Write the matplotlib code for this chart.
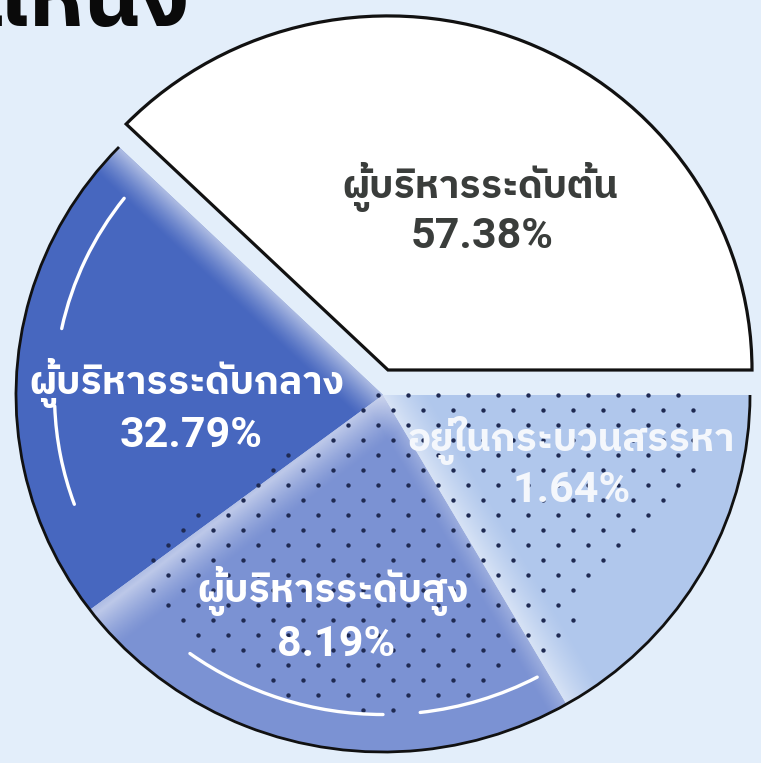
import numpy as np
import matplotlib
matplotlib.use("Agg")
import matplotlib.pyplot as plt
from matplotlib.patches import Arc
from matplotlib.path import Path

# ---------------- data ----------------
categories = ['ผู้บริหารระดับต้น', 'ผู้บริหารระดับกลาง', 'ผู้บริหารระดับสูง', 'อยู่ในกระบวนสรรหา']
percent_labels = [57.38, 32.79, 8.19, 1.64]
# slice angles (degrees) as drawn in the reference picture (stylised, not proportional)
drawn_span_deg = [136, 81, 83, 60]
slice_colors = ['#ffffff', '#4767bf', '#7b92d3', '#b0c7ec']
label_colors = ['#3a3d3b', '#ffffff', '#ffffff', '#f4f7fc']
title_text = 'ตำแหน่ง'

# ---------------- layout helpers ----------------
W, H = 761, 763
K = 367 / 357.0            # slight vertical squash of the original picture


def P(px, py):
    return (px, (H - py) * K)


BG = '#e3eefa'
THAI = ['IBM Plex Sans Thai', 'DejaVu Sans']
NUM = ['Roboto', 'DejaVu Sans']

fig = plt.figure(figsize=(W / 100, H / 100), dpi=100, facecolor=BG)
ax = fig.add_axes([0, 0, 1, 1])
ax.set_facecolor(BG)

center = P(383, 395)
R = 367

wedges, _ = ax.pie(drawn_span_deg, colors=slice_colors, startangle=0,
                   counterclock=True, center=center, radius=R,
                   wedgeprops=dict(linewidth=0), frame=True)
ax.set_aspect('auto')
ax.set_xlim(0, W)
ax.set_ylim(0, H * K)
ax.axis('off')

# white (exploded) slice
w0 = wedges[0]
w0.set_center(P(388, 370))
w0.set_radius(364)
w0.set_edgecolor('#111111')
w0.set_linewidth(2.3)
w0.set_joinstyle('miter')
w0.set_zorder(3)

# ---------------- soft light bands along slice edges ----------------
gy, gx = np.mgrid[0:H, 0:W] + 0.5


def seg_dist(p0, p1):
    x0, y0 = p0
    x1, y1 = p1
    vx, vy = x1 - x0, (y1 - y0) * K
    wx, wy = gx - x0, (gy - y0) * K
    t = np.clip((wx * vx + wy * vy) / (vx * vx + vy * vy), 0, 1)
    dx, dy = wx - t * vx, wy - t * vy
    return np.sqrt(dx * dx + dy * dy)


def band(wedge, p0, p1, width, amax, color=(1, 1, 1)):
    d = seg_dist(p0, p1)
    a = amax * np.clip(1 - d / width, 0, 1) ** 1.3
    img = np.zeros((H, W, 4))
    img[..., 0], img[..., 1], img[..., 2] = color
    img[..., 3] = a
    im = ax.imshow(img, extent=(0, W, 0, H * K), origin='upper',
                   interpolation='bilinear', zorder=1.5, aspect='auto')
    im.set_clip_path(wedge)


band(wedges[1], (383, 395), (110, 140), 34, 0.55)
band(wedges[2], (383, 395), (95, 615), 40, 0.5)
band(wedges[3], (383, 395), (575, 720), 40, 0.5)
band(wedges[2], (383, 395), (575, 720), 20, 0.25)

# ---------------- outer outline of the coloured part ----------------
ax.add_patch(Arc(center, 2 * R, 2 * R, theta1=wedges[1].theta1,
                 theta2=wedges[3].theta2, color='#111111', lw=2.0, zorder=2.5))

# white decorative arcs
for t1, t2 in [(142, 168), (182, 200), (234, 270), (276.5, 298)]:
    ax.add_patch(Arc(center, 2 * 0.895 * R, 2 * 0.895 * R, theta1=t1, theta2=t2,
                     color='white', lw=2.4, zorder=2.6, capstyle='round'))

# ---------------- dot texture ----------------
poly = Path([(372, 388), (700, 388), (700, 470), (548, 652), (470, 700), (380, 714),
             (285, 702), (140, 600), (140, 552), (372, 398), (372, 388)])
pts = []
for i, py in enumerate(np.arange(395, 716, 15)):
    off = 18 + (15 if i % 2 else 0)
    for px in np.arange(off, W, 30):
        pts.append((px, py))
pts = np.array(pts, dtype=float)
pts = pts[poly.contains_points(pts)]
ax.scatter(pts[:, 0], (H - pts[:, 1]) * K, s=10, color='#1f2a52', lw=0, zorder=2.4)

# ---------------- labels ----------------
label_pos = [((480, 187), (482, 237)),
             ((187, 383), (191, 436)),
             ((333, 591), (336, 645)),
             ((571, 441), (572, 491))]
for cat, pct, (tp, np_), col in zip(categories, percent_labels, label_pos, label_colors):
    ax.text(*P(*tp), cat, ha='center', va='center', fontsize=28, color=col,
            family=THAI, fontweight='bold', zorder=5)
    ax.text(*P(*np_), f'{pct:.2f}%', ha='center', va='center', fontsize=31,
            color=col, family=NUM, fontweight='bold', zorder=5)

# cut-off title at top (the reference picture is cropped through it)
ax.text(*P(190, 26), title_text, ha='right', va='baseline', fontsize=64,
        color='#0a0a0a', family=THAI, fontweight='bold', zorder=5)

fig.savefig('out.png', dpi=100, facecolor=BG)
